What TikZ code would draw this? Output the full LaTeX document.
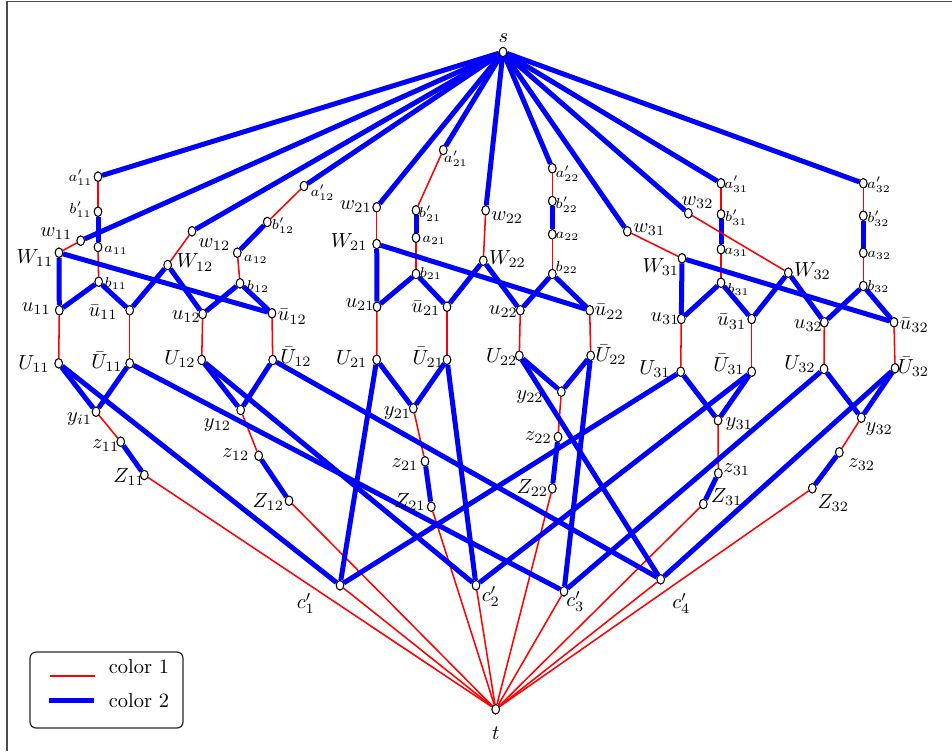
\documentclass[tikz,border=0pt]{standalone}
\usetikzlibrary{shapes.geometric}
\begin{document}
\begin{tikzpicture}[x=0.49pt,y=-0.49pt,
  v/.style={ellipse,draw,fill=white,inner sep=0pt,minimum width=3.7pt,minimum height=4.6pt,line width=0.45pt},
  lb/.style={inner sep=0pt,font=\normalsize},
  sl/.style={inner sep=0pt,font=\scriptsize},
  cone/.style={red,line width=0.75pt},
  ctwo/.style={blue,line width=2.45pt}]
\useasboundingbox (0,0) rectangle (952,751);
\draw[gray!60!black,line width=0.9pt] (7,751) -- (7,1.5) -- (952,1.5);
% ---------- vertices ----------
\foreach \n/\x/\y in {s/503/52, t/495.7/709.3,
 ap11/98/176.7, bp11/98/211.7, w11/80.7/240.7, a11/98/247, W11/59/252.7, b11/98.7/281.7,
 u11/59.3/310.3, ub11/129.7/310.3, w12/192/231.3, ap12/304/186, bp12/267.3/222, a12/237.3/252.7,
 W12/167.7/265, b12/240/283.3, u12/202.7/314, ub12/272/313.3, U11/58.7/363.3, Ub11/129.7/363.3,
 U12/201.7/360, Ub12/272.7/360, y11/96/411.7, z11/120.7/441.7, Z11/144.3/475, y12/240.7/410,
 z12/258.7/455.7, Z12/289/500.7,
 ap21/443.3/150, w21/376.7/207.3, bp21/416/210.3, a21/416/237.7, W21/376.7/244, b21/416/274,
 u21/377/306.7, ub21/447/306.7, w22/485.7/210.3, W22/483.3/260.7, ap22/552.3/168.3, bp22/552.3/201,
 a22/552.3/234.3, b22/552.3/274, u22/520.3/310.3, ub22/589.7/310.3, U21/376.7/359.7, Ub21/447/359.7,
 U22/519.3/355.7, Ub22/590.7/355.7, y21/413.3/408.3, z21/425/461.3, Z21/431.3/506.7,
 y22/561.3/391.7, z22/558/437, Z22/552.3/488.3,
 ap31/721/183.3, w32/688.3/213.3, bp31/721/214.3, w31/627.3/231.3, a31/721/249.3, W31/682/258.3,
 W32/788.3/272.7, b31/721/282.7, u31/681.3/319, ub31/751.7/319, ap32/863.3/183.3, bp32/863.3/215.7,
 a32/863.3/252.7, b32/863.3/286, u32/824.3/322.3, ub32/894/322.3, U31/680.7/371.7, Ub31/751.7/371.7,
 U32/824/369, Ub32/895/368.3, y31/718/420.3, z31/718.3/473.3, Z31/703.3/504, y32/861.3/417.7,
 z32/839.3/452.3, Z32/812.3/488.3,
 c1/340/585.3, c2/476/585.3, c3/564/591.3, c4/660.7/579.3}
 {\node[v] (\n) at (\x,\y) {};}
% ---------- edges ----------
\foreach \n in {ap11,w11,w12,ap12,w21,ap21,w22,ap22,w31,w32,ap31,ap32}
  \draw[ctwo] (s) -- (\n);
\foreach \i in {1,2,3}{
  \foreach \j in {1,2}{
    \draw[cone] (ap\i\j) -- (bp\i\j);
    \draw[cone] (a\i\j) -- (b\i\j);
    \draw[cone] (w\i\j) -- (W\i\j);
    \draw[cone] (u\i\j) -- (U\i\j);
    \draw[cone] (ub\i\j) -- (Ub\i\j);
    \draw[cone] (y\i\j) -- (z\i\j);
    \draw[cone] (Z\i\j) -- (t);
    \draw[ctwo] (bp\i\j) -- (a\i\j);
    \draw[ctwo] (b\i\j) -- (u\i\j);
    \draw[ctwo] (b\i\j) -- (ub\i\j);
    \draw[ctwo] (U\i\j) -- (y\i\j);
    \draw[ctwo] (Ub\i\j) -- (y\i\j);
    \draw[ctwo] (z\i\j) -- (Z\i\j);
  }
  \draw[ctwo] (W\i1) -- (u\i1);
  \draw[ctwo] (W\i1) -- (ub\i2);
  \draw[ctwo] (ub\i1) -- (W\i2);
  \draw[ctwo] (W\i2) -- (u\i2);
}
\foreach \a/\b in {U11/c1, Ub11/c3, U12/c2, Ub12/c4, U21/c1, Ub21/c2, U22/c4, Ub22/c3,
  U31/c1, Ub31/c2, U32/c3, Ub32/c4}
  \draw[ctwo] (\a) -- (\b);
\foreach \c in {c1,c2,c3,c4}
  \draw[cone] (\c) -- (t);
% redraw vertices on top
\foreach \n in {s,t,ap11,bp11,w11,a11,W11,b11,u11,ub11,w12,ap12,bp12,a12,W12,b12,u12,ub12,U11,Ub11,U12,Ub12,y11,z11,Z11,y12,z12,Z12,
 ap21,w21,bp21,a21,W21,b21,u21,ub21,w22,W22,ap22,bp22,a22,b22,u22,ub22,U21,Ub21,U22,Ub22,y21,z21,Z21,y22,z22,Z22,
 ap31,w32,bp31,w31,a31,W31,W32,b31,u31,ub31,ap32,bp32,a32,b32,u32,ub32,U31,Ub31,U32,Ub32,y31,z31,Z31,y32,z32,Z32,c1,c2,c3,c4}
 {\node[v] at (\n) {};}
% ---------- labels ----------
\node[lb] (ls) at (503.3,38.3) {$s$};
\node[lb] (lt) at (495.7,733.3) {$t$};
\foreach \n/\x/\y/\txt in {
 lap11/80.5/177.5/{a'_{11}}, lbp11/80.5/210/{b'_{11}}, la11/116/250/{a_{11}}, lb11/115.7/283.3/{b_{11}},
 lap12/322.5/192.5/{a'_{12}}, lbp12/283/225.8/{b'_{12}}, la12/255.8/259/{a_{12}}, lb12/258/286.7/{b_{12}},
 lap21/455.8/159/{a'_{21}}, lbp21/430/213.3/{b'_{21}}, la21/434.2/240.5/{a_{21}}, lb21/430.8/273.3/{b_{21}},
 lap22/567.5/173.3/{a'_{22}}, lbp22/566.7/205/{b'_{22}}, la22/567.5/236.7/{a_{22}}, lb22/566.7/267.5/{b_{22}},
 lap31/736.2/184.2/{a'_{31}}, lbp31/736.2/217.5/{b'_{31}}, la31/736.2/252.5/{a_{31}}, lb31/738.5/290/{b_{31}},
 lap32/879/185/{a'_{32}}, lbp32/878.3/218.3/{b'_{32}}, la32/879.2/255.8/{a_{32}}, lb32/878.3/286.7/{b_{32}}}
 {\node[sl] (\n) at (\x,\y) {$\txt$};}
\foreach \n/\x/\y/\txt in {
 lw11/56.3/234/{w_{11}}, lW11/35/258/{W_{11}}, lu11/36.3/308.3/{u_{11}}, lub11/103/312/{\bar u_{11}},
 lw12/214.3/244.2/{w_{12}}, lW12/195/262.5/{W_{12}}, lu12/186.3/316.7/{u_{12}}, lub12/292.2/316.7/{\bar u_{12}},
 lU11/34/364/{U_{11}}, lUb11/107/361.7/{\bar U_{11}}, lU12/180/359/{U_{12}}, lUb12/296/356.7/{\bar U_{12}},
 ly11/79.5/419.5/{y_{i1}}, lz11/105.8/445.8/{z_{11}}, lZ11/129/477/{Z_{11}},
 ly12/217.5/425/{y_{12}}, lz12/235.8/455/{z_{12}}, lZ12/268.3/501.7/{Z_{12}},
 lw21/355.8/206.7/{w_{21}}, lW21/349.2/241.7/{W_{21}}, lu21/360/305/{u_{21}}, lub21/425.8/308.3/{\bar u_{21}},
 lw22/507.2/217.5/{w_{22}}, lW22/507.5/259.2/{W_{22}}, lu22/503.3/311.7/{u_{22}}, lub22/609.2/311.7/{\bar u_{22}},
 lU21/351.7/359/{U_{21}}, lUb21/428.3/357.2/{\bar U_{21}}, lU22/501.7/356.7/{U_{22}}, lUb22/611/355/{\bar U_{22}},
 ly21/397.5/413.3/{y_{21}}, lz21/405/465/{z_{21}}, lZ21/410/501.7/{Z_{21}},
 ly22/530/397.5/{y_{22}}, lz22/538.3/437.5/{z_{22}}, lZ22/532.5/488.3/{Z_{22}},
 lw31/649.2/230/{w_{31}}, lw32/697.5/202.5/{w_{32}}, lW31/660.8/266.7/{W_{31}}, lW32/812.5/271.2/{W_{32}},
 lu31/665/319/{u_{31}}, lub31/731.7/321.7/{\bar u_{31}}, lu32/808.3/325.8/{u_{32}}, lub32/914.2/325/{\bar u_{32}},
 lU31/655/369.2/{U_{31}}, lUb31/729/364.2/{\bar U_{31}}, lU32/800/364.2/{U_{32}}, lUb32/913.5/366.7/{\bar U_{32}},
 ly31/739.2/424.2/{y_{31}}, lz31/736.7/470/{z_{31}}, lZ31/726.7/496.7/{Z_{31}},
 ly32/879.2/429.2/{y_{32}}, lz32/861.7/465/{z_{32}}, lZ32/833.3/503.3/{Z_{32}},
 lc1/305.8/603.3/{c'_1}, lc2/490.8/596.7/{c'_2}, lc3/575.3/601.7/{c'_3}, lc4/681.3/603.3/{c'_4}}
 {\node[lb] (\n) at (\x,\y) {$\txt$};}
% ---------- legend ----------
\draw[gray!30!black,line width=0.6pt,rounded corners=3pt] (30,652) rectangle (183,728);
\coordinate (r1) at (50,676); \coordinate (r2) at (95,676);
\coordinate (b1) at (49,700); \coordinate (b2) at (94,700);
\draw[cone] (r1) -- (r2);
\draw[ctwo] (b1) -- (b2);
\node[lb] (leg1) at (139,667) {color 1};
\node[lb] (leg2) at (139,701) {color 2};
\end{tikzpicture}
\end{document}
